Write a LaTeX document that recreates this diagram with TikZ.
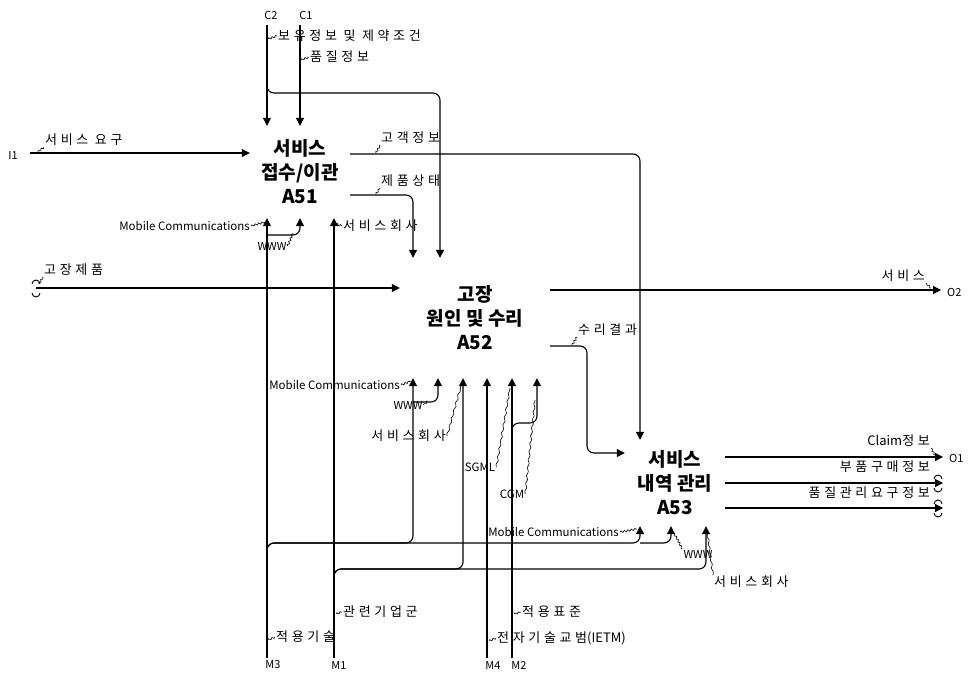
\documentclass[tikz,border=0pt]{standalone}
\usepackage{fontspec}
\setmainfont{Noto Sans CJK KR}
\newfontfamily\krsp[LetterSpace=28]{Noto Sans CJK KR}
\usetikzlibrary{arrows.meta,decorations.pathmorphing}
\tikzset{
  flow/.style={line width=1.1pt, rounded corners=7pt},
  arr/.style={flow, -{Triangle[length=8pt,width=8pt]}},
  kl/.style={font=\krsp\fontsize{13}{13}\selectfont, inner sep=1pt},
  en/.style={font=\fontsize{11.5}{12}\selectfont, inner sep=1pt},
  idl/.style={font=\fontsize{11}{11}\selectfont, inner sep=1pt},
  ttl/.style={font=\fontsize{19}{24}\selectfont\bfseries, align=center, inner sep=0pt},
  lead/.style={line width=0.6pt, decorate, decoration={snake, amplitude=0.9pt, segment length=3.5pt}},
  tun/.style={line width=0.9pt}
}
\begin{document}
\begin{tikzpicture}[x=1pt,y=-1pt]
\useasboundingbox (0,0) rectangle (971,674);

% activity boxes (borders not drawn)
\node[ttl, minimum width=100pt, minimum height=92pt] (A51) at (300,172) {서비스\\접수/이관\\A51};
\node[ttl, minimum width=150pt, minimum height=120pt] (A52) at (475,318) {고장\\원인 및 수리\\A52};
\node[ttl, minimum width=100pt, minimum height=86pt] (A53) at (675,483) {서비스\\내역 관리\\A53};

% free ends and bends
\coordinate (c2) at (267,25);
\coordinate (c1) at (300,25);
\coordinate (c2b) at (267,80);
\coordinate (j440) at (440,93);
\coordinate (i1) at (30,153);
\coordinate (k1) at (640,154);
\coordinate (k2) at (413,195);
\coordinate (m3) at (267,658);
\coordinate (m1) at (334,658);
\coordinate (m4) at (487,658);
\coordinate (m2) at (512,658);
\coordinate (w1) at (300,235);
\coordinate (ie) at (36,288);
\coordinate (o2) at (941,290);
\coordinate (r1) at (587,346);
\coordinate (r2) at (587,453);
\coordinate (b3s) at (267,552);
\coordinate (p413) at (413,543);
\coordinate (p640) at (640,543);
\coordinate (p671) at (671,543);
\coordinate (b1s) at (334,578);
\coordinate (q463) at (463,569);
\coordinate (q706) at (706,569);
\coordinate (g1) at (512,434);
\coordinate (g2) at (537,423);
\coordinate (w2) at (438,402);
\coordinate (o1) at (943,457);
\coordinate (o3) at (943,483);
\coordinate (o4) at (943,508);

% controls
\draw[arr] (c2) -- (c2 |- A51.north);
\draw[arr] (c2b) |- (j440) -- (j440 |- A52.north);
\draw[arr] (c1) -- (c1 |- A51.north);
% inputs
\draw[arr] (i1) -- (i1 -| A51.west);
\draw[arr] (ie) -- (ie -| A52.west);
% A51 outputs
\draw[arr] (k1 -| A51.east) -- (k1) -- (k1 |- A53.north);
\draw[arr] (k2 -| A51.east) -- (k2) -- (k2 |- A52.north);
% mechanisms A51
\draw[arr] (m3) -- (m3 |- A51.south);
\draw[arr] (m3 |- w1) -- (w1) -- (w1 |- A51.south);
\draw[arr] (m1) -- (m1 |- A51.south);
% A52 outputs
\draw[arr] (o2 -| A52.east) -- (o2);
\draw[arr] (r1 -| A52.east) -- (r1) -- (r2) -- (r2 -| A53.west);
% mechanisms A52 / A53
\draw[arr] (b3s) |- (p413) -- (p413 |- A52.south);
\draw[arr] (b3s) |- (p640) -- (p640 |- A53.south);
\draw[arr] (p640) -- (p671) -- (p671 |- A53.south);
\draw[arr] (p413 |- w2) -- (w2) -- (w2 |- A52.south);
\draw[arr] (b1s) |- (q463) -- (q463 |- A52.south);
\draw[arr] (b1s) |- (q706) -- (q706 |- A53.south);
\draw[arr] (m4) -- (m4 |- A52.south);
\draw[arr] (m2) -- (m2 |- A52.south);
\draw[arr] (g1) |- (g2) -- (g2 |- A52.south);
% A53 outputs
\draw[arr] (o1 -| A53.east) -- (o1);
\draw[arr] (o3 -| A53.east) -- (o3);
\draw[arr] (o4 -| A53.east) -- (o4);

% tunnels
\draw[tun] (32,284) arc[start angle=180,end angle=360,radius=4];
\draw[tun] (32,293) arc[start angle=180,end angle=0,radius=4];
\draw[tun] (934,479) arc[start angle=180,end angle=360,radius=4];
\draw[tun] (934,488) arc[start angle=180,end angle=0,radius=4];
\draw[tun] (934,504) arc[start angle=180,end angle=360,radius=4];
\draw[tun] (934,513) arc[start angle=180,end angle=0,radius=4];

% ICOM labels
\node[idl] (tC2) at (271,15) {C2};
\node[idl] (tC1) at (306,15) {C1};
\node[idl] (tI1) at (13,155) {I1};
\node[idl, anchor=west] (tO2) at (946,292) {O2};
\node[idl, anchor=west] (tO1) at (948,458) {O1};
\node[idl] (tM3) at (273,665) {M3};
\node[idl] (tM1) at (339,665) {M1};
\node[idl] (tM4) at (493,665) {M4};
\node[idl] (tM2) at (519,665) {M2};

% arrow labels
\node[kl, anchor=west] (L1) at (277,36) {보유정보 및 제약조건};
\draw[lead] (268,39) -- (L1.west);
\node[kl, anchor=west] (L2) at (309,57) {품질정보};
\draw[lead] (301,60) -- (L2.west);
\node[kl, anchor=west] (L3) at (44,140) {서비스 요구};
\draw[lead] (38,152) -- (L3.south west);
\node[kl, anchor=west] (L4) at (380,138) {고객정보};
\draw[lead] (376,153) -- (L4.south west);
\node[kl, anchor=west] (L5) at (380,181) {제품상태};
\draw[lead] (376,194) -- (L5.south west);
\node[kl, anchor=west] (L6) at (43,270) {고장제품};
\draw[lead] (39,284) -- (L6.south west);
\node[kl, anchor=east] (L7) at (926,276) {서비스};
\draw[lead] (931,288) -- (L7.south east);
\node[kl, anchor=west] (L8) at (577,330) {수리결과};
\draw[lead] (572,345) -- (L8.south west);
\node[en, anchor=east] (L9) at (251,226) {Mobile Communications};
\draw[lead] (L9.east) -- (265,222);
\node[idl] (L10) at (272,246) {WWW};
\draw[lead] (L10.east) -- (293,233);
\node[kl, anchor=west] (L11) at (342,226) {서비스회사};
\draw[lead] (336,224) -- (L11.west);
\node[en, anchor=east] (L12) at (401,385) {Mobile Communications};
\draw[lead] (L12.east) -- (411,381);
\node[idl] (L13) at (408,405) {WWW};
\draw[lead] (L13.east) -- (428,401);
\node[kl, anchor=east] (L14) at (447,436) {서비스회사};
\draw[lead, decoration={snake, amplitude=0.8pt, segment length=8pt}] (L14.east) -- (461,386);
\node[en] (L15) at (480,467) {SGML};
\draw[lead, decoration={snake, amplitude=0.8pt, segment length=8pt}] (L15.east) -- (510,388);
\node[en] (L16) at (512,494) {CGM};
\draw[lead, decoration={snake, amplitude=0.8pt, segment length=8pt}] (L16.east) -- (535,400);
\node[en, anchor=east] (L17) at (620,532) {Mobile Communications};
\draw[lead] (L17.east) -- (637,529);
\node[idl] (L18) at (698,554) {WWW};
\draw[lead] (L18.north west) -- (674,533);
\node[kl, anchor=west] (L19) at (713,582) {서비스회사};
\draw[lead, decoration={snake, amplitude=0.8pt, segment length=8pt}] (707,530) -- (L19.north west);
\node[kl, anchor=west] (L20) at (342,612) {관련기업군};
\draw[lead] (336,614) -- (L20.west);
\node[kl, anchor=west] (L21) at (275,637) {적용기술};
\draw[lead] (268,640) -- (L21.west);
\node[kl, anchor=west] (L22) at (521,612) {적용표준};
\draw[lead] (514,614) -- (L22.west);
\node[kl, anchor=west] (L23) at (496,638) {전자기술교범{\rmfamily(IETM)}};
\draw[lead] (489,641) -- (L23.west);
\node[kl, anchor=east] (L24) at (931,441) {{\rmfamily Claim}정보};
\draw[lead] (935,455) -- (L24.south east);
\node[kl, anchor=east] (L25) at (931,467) {부품구매정보};
\node[kl, anchor=east] (L26) at (931,493) {품질관리요구정보};
\end{tikzpicture}
\end{document}
